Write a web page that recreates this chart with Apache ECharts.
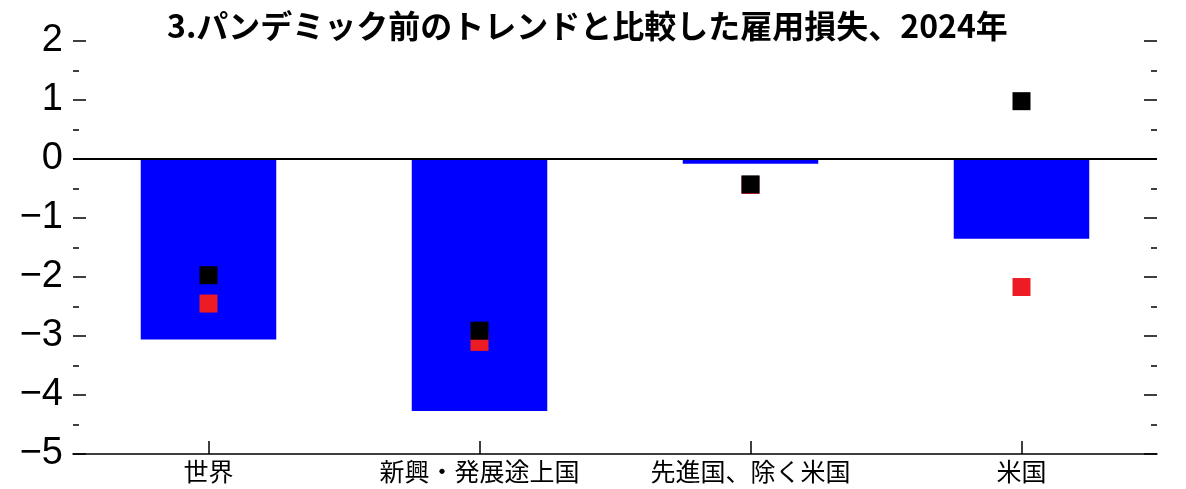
<!DOCTYPE html>
<html>
<head>
<meta charset="utf-8">
<script src="https://cdn.jsdelivr.net/npm/echarts@6/dist/echarts.min.js"></script>
<style>html,body{margin:0;padding:0;background:#fff}#c{width:1186px;height:489px}</style>
</head>
<body>
<div id="c"></div>
<script>
const titleText = '3.パンデミック前のトレンドと比較した雇用損失、2024年';
const categories = ['世界', '新興・発展途上国', '先進国、除く米国', '米国'];
const barValues = [-3.06, -4.27, -0.08, -1.35];
const redValues = [-2.45, -3.10, -0.44, -2.17];
const blackValues = [-1.97, -2.91, -0.43, 0.98];
const yMin = -5, yMax = 2, yInterval = 1;

const chart = echarts.init(document.getElementById('c'), null, {renderer: 'canvas'});
const yAxisBase = {
  type: 'value', min: yMin, max: yMax, interval: yInterval,
  axisLine: {show: false},
  splitLine: {show: false},
  axisTick: {show: true, inside: true, length: 13, lineStyle: {color: '#000', width: 1.5}},
  minorTick: {show: true, splitNumber: 2, length: 6, lineStyle: {color: '#000', width: 1.5}}
};
chart.setOption({
  animation: false,
  backgroundColor: '#fff',
  title: {
    text: titleText, left: 162, top: 5,
    textStyle: {fontFamily: 'Noto Sans CJK JP', fontWeight: 'bold', fontSize: 32, color: '#000'}
  },
  grid: {left: 73, right: 29, top: 41, bottom: 35, containLabel: false},
  xAxis: {
    type: 'category', data: categories, position: 'bottom',
    axisLine: {show: true, onZero: false, lineStyle: {color: '#000', width: 1.5}},
    axisTick: {show: true, inside: true, length: 13, alignWithLabel: true, lineStyle: {color: '#000', width: 1.5}},
    axisLabel: {fontFamily: 'Noto Sans CJK JP', fontSize: 25, color: '#000', margin: 5}
  },
  yAxis: [
    Object.assign({}, yAxisBase, {
      position: 'left',
      axisLabel: {
        fontFamily: 'Liberation Sans Narrow, Liberation Sans', fontSize: 38, color: '#000', margin: 10,
        formatter: v => String(v).replace('-', '\u2212')
      }
    }),
    Object.assign({}, yAxisBase, {position: 'right', axisLabel: {show: false}})
  ],
  series: [
    {
      type: 'bar', data: barValues, barWidth: '50%',
      itemStyle: {color: '#0000FF'},
      markLine: {
        silent: true, symbol: 'none', label: {show: false},
        lineStyle: {color: '#000', width: 2, type: 'solid'},
        data: [{yAxis: 0}]
      }
    },
    {
      type: 'scatter', data: redValues, symbol: 'rect', symbolSize: 18,
      itemStyle: {color: '#ED1C24', opacity: 1}, z: 3
    },
    {
      type: 'scatter', data: blackValues, symbol: 'rect', symbolSize: 18,
      itemStyle: {color: '#000', opacity: 1}, z: 4
    }
  ]
});
</script>
</body>
</html>
